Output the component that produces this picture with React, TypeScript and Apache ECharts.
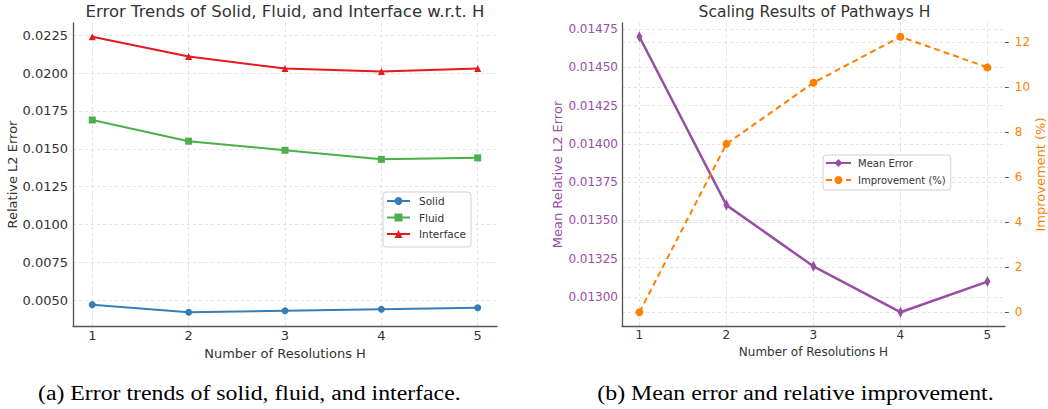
import React, { useEffect, useRef } from "react";
import * as echarts from "echarts";

// ---- data ----
const resolutions = [1, 2, 3, 4, 5];
const solidError = [0.0047, 0.0042, 0.0043, 0.0044, 0.0045];
const fluidError = [0.0169, 0.0155, 0.0149, 0.0143, 0.0144];
const interfaceError = [0.0224, 0.0211, 0.0203, 0.0201, 0.0203];
const meanError = [0.0147, 0.0136, 0.0132, 0.0129, 0.0131];
const improvementPct = [0, 7.48, 10.2, 12.24, 10.88];

const leftYTicks = [0.005, 0.0075, 0.01, 0.0125, 0.015, 0.0175, 0.02, 0.0225];
const meanYTicks = [0.013, 0.01325, 0.0135, 0.01375, 0.014, 0.01425, 0.0145, 0.01475];
const improvementTicks = [0, 2, 4, 6, 8, 10, 12];

const leftTitle = "Error Trends of Solid, Fluid, and Interface w.r.t. H";
const rightTitle = "Scaling Results of Pathways H";
const xName = "Number of Resolutions H";
const captionA = "(a) Error trends of solid, fluid, and interface.";
const captionB = "(b) Mean error and relative improvement.";

// ---- styles ----
const FONT = "DejaVu Sans";
const TXT = "#333";
const PURPLE = "#984ea3";
const ORANGE = "#ff7f00";
const BLUE = "#377eb8";
const GREEN = "#4daf4a";
const RED = "#e41a1c";

const gridLine = { show: true, lineStyle: { color: "#dadada", type: [3, 3], width: 0.8 } };
const axisLine = { show: true, onZero: false, lineStyle: { color: "#555", width: 1.3 } };

const pairs = (ys: number[]) => resolutions.map((h, i) => [h, ys[i]]);

function buildOption(): any {
  return {
    animation: false,
    backgroundColor: "#fff",
    textStyle: { fontFamily: FONT },
    title: [
      {
        text: leftTitle,
        left: 285,
        top: 3,
        textAlign: "center",
        padding: 0,
        textStyle: { fontFamily: FONT, fontSize: 16.5, fontWeight: "normal", color: TXT },
      },
      {
        text: rightTitle,
        left: 814.5,
        top: 4,
        textAlign: "center",
        padding: 0,
        textStyle: { fontFamily: FONT, fontSize: 15.5, fontWeight: "normal", color: TXT },
      },
    ],
    grid: [
      { left: 73, top: 23, width: 424, height: 303 },
      { left: 622, top: 23, width: 385, height: 303 },
    ],
    xAxis: [
      {
        type: "value",
        gridIndex: 0,
        min: 0.8,
        max: 5.2,
        axisLine,
        axisTick: { show: false, customValues: resolutions },
        axisLabel: { customValues: resolutions, color: TXT, fontSize: 13, margin: 3, fontFamily: FONT },
        splitLine: gridLine,
        name: xName,
        nameLocation: "middle",
        nameGap: 20,
        nameTextStyle: { fontSize: 13, color: TXT, fontFamily: FONT },
      },
      {
        type: "value",
        gridIndex: 1,
        min: 0.8,
        max: 5.2,
        axisLine,
        axisTick: { show: false, customValues: resolutions },
        axisLabel: { customValues: resolutions, color: TXT, fontSize: 12, margin: 3, fontFamily: FONT },
        splitLine: gridLine,
        name: xName,
        nameLocation: "middle",
        nameGap: 20,
        nameTextStyle: { fontSize: 12, color: TXT, fontFamily: FONT },
      },
    ],
    yAxis: [
      {
        type: "value",
        gridIndex: 0,
        min: 0.00329,
        max: 0.02331,
        axisLine,
        axisTick: { show: false, customValues: leftYTicks },
        axisLabel: {
          customValues: leftYTicks,
          formatter: (v: number) => v.toFixed(4),
          color: TXT,
          fontSize: 13,
          margin: 5,
          fontFamily: FONT,
        },
        splitLine: gridLine,
        name: "Relative L2 Error",
        nameLocation: "middle",
        nameGap: 54,
        nameTextStyle: { fontSize: 13, color: TXT, fontFamily: FONT },
      },
      {
        type: "value",
        gridIndex: 1,
        position: "left",
        min: 0.01281,
        max: 0.01479,
        axisLine,
        axisTick: { show: false, customValues: meanYTicks },
        axisLabel: {
          customValues: meanYTicks,
          formatter: (v: number) => v.toFixed(5),
          color: PURPLE,
          fontSize: 12,
          margin: 4,
          fontFamily: FONT,
        },
        splitLine: gridLine,
        name: "Mean Relative L2 Error",
        nameLocation: "middle",
        nameGap: 56,
        nameTextStyle: { fontSize: 13, color: PURPLE, fontFamily: FONT },
      },
      {
        type: "value",
        gridIndex: 1,
        position: "right",
        min: -0.612,
        max: 12.852,
        axisLine: { show: false },
        axisTick: { show: true, length: 4, customValues: improvementTicks, lineStyle: { color: "#555", width: 1 } },
        axisLabel: {
          customValues: improvementTicks,
          color: ORANGE,
          fontSize: 12,
          margin: 10,
          fontFamily: FONT,
        },
        splitLine: gridLine,
        name: "Improvement (%)",
        nameLocation: "middle",
        nameGap: 22,
        nameTextStyle: { fontSize: 13, color: ORANGE, fontFamily: FONT },
      },
    ],
    legend: [
      {
        data: ["Solid", "Fluid", "Interface"],
        orient: "vertical",
        left: 383,
        top: 192,
        padding: [3, 5, 7, 3],
        itemGap: 4.5,
        itemWidth: 23,
        itemHeight: 10,
        backgroundColor: "#fff",
        borderColor: "#d0d0d0",
        borderWidth: 1,
        borderRadius: 3,
        textStyle: { fontSize: 10.5, color: TXT, fontFamily: FONT, lineHeight: 12, padding: [0, 0, 0, 4] },
      },
      {
        data: ["Mean Error", "Improvement (%)"],
        orient: "vertical",
        left: 823,
        top: 155,
        padding: [2, 5, 4, 2],
        itemGap: 5,
        itemWidth: 25,
        itemHeight: 10,
        backgroundColor: "#fff",
        borderColor: "#d0d0d0",
        borderWidth: 1,
        borderRadius: 3,
        textStyle: { fontSize: 10, color: TXT, fontFamily: FONT, lineHeight: 12, padding: [0, 0, 0, 2] },
      },
    ],
    series: [
      {
        name: "Solid",
        type: "line",
        xAxisIndex: 0,
        yAxisIndex: 0,
        data: pairs(solidError),
        symbol: "circle",
        symbolSize: 7,
        itemStyle: { color: BLUE },
        lineStyle: { color: BLUE, width: 2 },
      },
      {
        name: "Fluid",
        type: "line",
        xAxisIndex: 0,
        yAxisIndex: 0,
        data: pairs(fluidError),
        symbol: "rect",
        symbolSize: 7,
        itemStyle: { color: GREEN },
        lineStyle: { color: GREEN, width: 2 },
      },
      {
        name: "Interface",
        type: "line",
        xAxisIndex: 0,
        yAxisIndex: 0,
        data: pairs(interfaceError),
        symbol: "triangle",
        symbolSize: 7,
        itemStyle: { color: RED },
        lineStyle: { color: RED, width: 2 },
      },
      {
        name: "Mean Error",
        type: "line",
        xAxisIndex: 1,
        yAxisIndex: 1,
        data: pairs(meanError),
        symbol: "diamond",
        symbolSize: [6, 11],
        itemStyle: { color: PURPLE },
        lineStyle: { color: PURPLE, width: 2.5 },
      },
      {
        name: "Improvement (%)",
        type: "line",
        xAxisIndex: 1,
        yAxisIndex: 2,
        data: pairs(improvementPct),
        symbol: "circle",
        symbolSize: 8,
        itemStyle: { color: ORANGE },
        lineStyle: { color: ORANGE, width: 2, type: [6, 4] },
      },
    ],
    graphic: [
      {
        type: "text",
        x: 249.3,
        y: 393.5,
        scaleX: 1.19,
        style: {
          text: captionA,
          font: '20px "Liberation Serif"',
          fill: "#000",
          align: "center",
          verticalAlign: "middle",
          textAlign: "center",
          textVerticalAlign: "middle",
        },
      },
      {
        type: "text",
        x: 795.5,
        y: 393.5,
        scaleX: 1.19,
        style: {
          text: captionB,
          font: '20px "Liberation Serif"',
          fill: "#000",
          align: "center",
          verticalAlign: "middle",
          textAlign: "center",
          textVerticalAlign: "middle",
        },
      },
    ],
  };
}

export default function App() {
  const ref = useRef<HTMLDivElement>(null);
  useEffect(() => {
    document.body.style.margin = "0";
    const chart = echarts.init(ref.current!, null, { renderer: "svg" });
    chart.setOption(buildOption());
    return () => chart.dispose();
  }, []);
  return <div ref={ref} style={{ width: 1048, height: 409 }} />;
}
